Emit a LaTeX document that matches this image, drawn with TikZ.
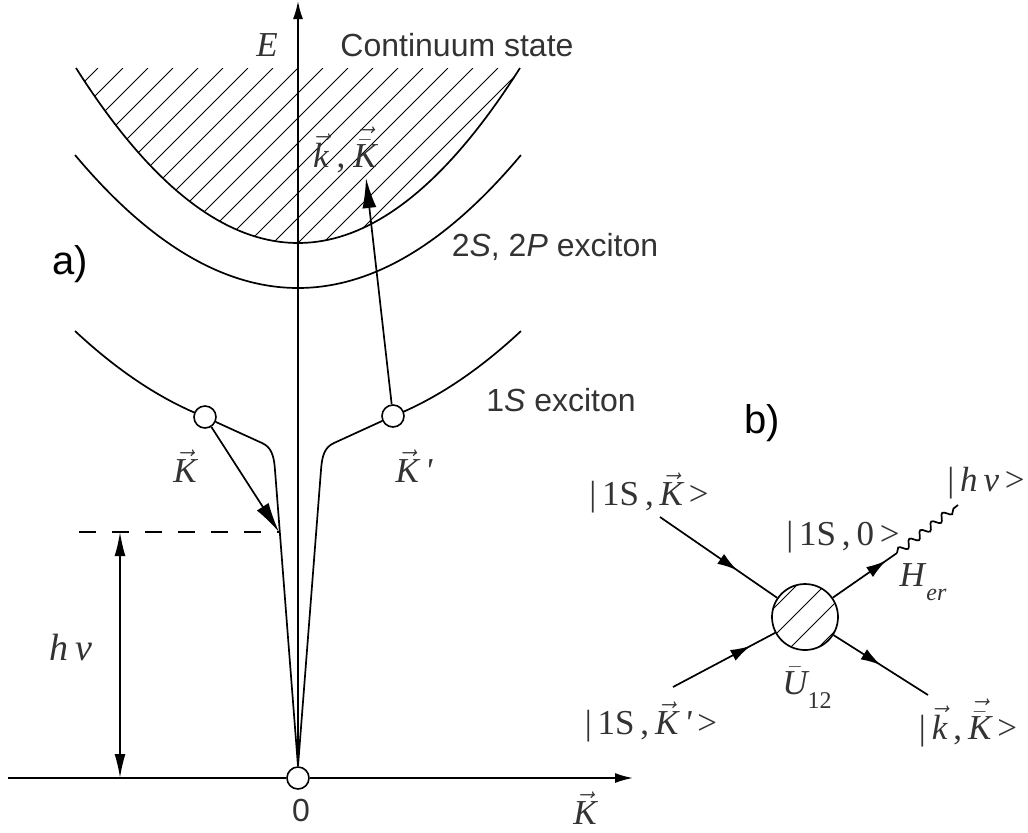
\documentclass[tikz,border=0pt]{standalone}
\usepackage{fontspec}
\setmainfont{Liberation Serif}
\setsansfont{Liberation Sans}
\usetikzlibrary{arrows.meta,decorations.markings,decorations.pathmorphing}
\definecolor{txt}{HTML}{333333}
\newcommand{\vk}[1]{\ensuremath{\vec{\mbox{\itshape #1}}}}
\newcommand{\vkb}[1]{\ensuremath{\vec{\mbox{\raisebox{0pt}[\dimexpr\height+2pt\relax]{$\bar{\mbox{\itshape #1}}$}}}}}
\tikzset{
  dot/.style={circle, draw, fill=white, line width=0.8pt, minimum size=11pt, inner sep=0pt},
  sanslbl/.style={font=\sffamily\fontsize{16}{19}\selectfont, text=txt, inner sep=0pt},
  seriflbl/.style={font=\fontsize{17.5}{20}\selectfont, text=txt, inner sep=0pt},
  panel/.style={font=\sffamily\fontsize{20}{24}\selectfont, text=black, inner sep=0pt},
  hatch/.style={line width=0.5pt},
  bigtip/.style={-{Latex[length=15pt,width=7pt]}},
  axtip/.style={-{Latex[length=9pt,width=5pt]}},
  midarrow/.style={postaction={decorate,decoration={markings,
      mark=at position #1 with {\arrow{Latex[length=10pt,width=6pt]}}}}},
  wave/.style={decorate, decoration={snake, segment length=7pt, amplitude=1.8pt}}
}
\begin{document}
\begin{tikzpicture}[x=0.5pt,y=-0.5pt,line width=0.85pt]
\useasboundingbox (0,0) rectangle (1028,832);

% ---------- panel a) ----------
% hatching of continuum
\begin{scope}
  \clip plot[domain=-1:1,samples=80] ({298+222*\x},{243-175*\x*\x}) -- cycle;
  \foreach \i in {-12,...,18} \draw[hatch] ({298+25*\i},68) -- ++(-220,220);
\end{scope}
% bands
\draw plot[domain=-1:1,samples=80] ({298+222*\x},{243-175*\x*\x});
\draw plot[domain=-1:1,samples=80] ({298+223*\x},{288-133*\x*\x});
\draw plot[domain=-1:-0.417,samples=40] ({298+223*\x},{435-104*\x*\x});
\draw plot[domain=0.426:1,samples=40] ({298+223*\x},{435-104*\x*\x});

% points
\node[dot] (O) at (298,778) {};
\node[dot] (L) at (205,417) {};
\node[dot] (R) at (393,416) {};

% axes
\coordinate (Etop) at (298,1);
\coordinate (Kstart) at (8,778);
\coordinate (Kend) at (633,778);
\draw[axtip] (O.north) -- (Etop);
\draw (Kstart) -- (O.west);
\draw[axtip] (O.east) -- (Kend);

% dip of the 1S branch
\draw (L) -- (262,443) .. controls (271,447) and (274,455) .. (275,470) -- (O.north);
\draw (R) -- (334,443) .. controls (325,447) and (322,455) .. (321,470) -- (O.north);

% transitions
\coordinate (Ltip) at (279,532);
\coordinate (Rtip) at (366,178);
\coordinate (D) at (79,532);
\coordinate (H1) at (120,532);
\coordinate (H0) at (120,778);
\draw[bigtip] (L) -- (Ltip);
\draw[bigtip] (R) -- (Rtip);
\draw[dash pattern=on 8.5pt off 8pt] (D) -- (Ltip);
\draw[{Latex[length=12pt,width=5.5pt]}-{Latex[length=12pt,width=5.5pt]}] (H0) -- (H1);

% labels a)
\node[seriflbl] (lE) at (267,45) {\itshape E};
\node[sanslbl] (lcont) at (457,45) {Continuum state};
\node[seriflbl] (lkK) at (345,150) {\vk{k}\hspace{4pt},\hspace{4pt}\vkb{K}};
\node[panel] (la) at (70,264) {a)};
\node[sanslbl] (l2s) at (555,247) {2\textit{S}, 2\textit{P} exciton};
\node[sanslbl] (l1s) at (561,400) {1\textit{S} exciton};
\node[seriflbl] (lK) at (185,466) {\vk{K}};
\node[seriflbl] (lKp) at (414,466) {\vk{K}\,{\itshape\textquotesingle}};
\node[seriflbl] (lhn) at (71,647) {\fontsize{19}{22}\selectfont\itshape h\,ν};
\node[sanslbl] (l0) at (301,810) {0};
\node[seriflbl] (lKax) at (585,808) {\vk{K}};

% ---------- panel b) ----------
\node[panel] (lb) at (762,423) {b)};
\node[circle, draw, minimum size=33pt, inner sep=0pt] (S) at (805,617) {};
\begin{scope}
  \clip (805,617) circle (33);
  \foreach \d in {-40,-12,16,44} \draw[hatch] ({805+\d-70},687) -- ++(140,-140);
\end{scope}
\coordinate (a1) at (660,517);
\coordinate (a2) at (673,687);
\coordinate (b1) at (897,553);
\coordinate (b2) at (928,695);
\coordinate (w) at (958,505);
\draw[midarrow=0.66] (a1) -- (S);
\draw[midarrow=0.76] (a2) -- (S);
\draw[midarrow=0.83] (S) -- (b1);
\draw[midarrow=0.5] (S) -- (b2);
\draw[wave] (b1) -- (w);

\node[seriflbl] (s1) at (649,493) {|\,1S\,,\,\vk{K}\,>};
\node[seriflbl] (s0) at (843,537) {|\,1S\,,\,0\,>};
\node[seriflbl] (shn) at (986,483) {|\,\textit{h\,ν}\,>};
\node[seriflbl] (sH) at (923,582) {\textit{H}\raisebox{-7pt}{\fontsize{12}{13}\selectfont\textit{er}}};
\node[seriflbl] (sU) at (807,688) {\ensuremath{\bar{\mbox{\itshape U}}}\raisebox{-7pt}{\fontsize{12}{13}\selectfont 12}};
\node[seriflbl] (s2) at (651,722) {|\,1S\,,\,\vk{K}\,{\itshape\textquotesingle}\,>};
\node[seriflbl] (s3) at (968,723) {|\,\vk{k}\hspace{3pt},\hspace{3pt}\vkb{K}\,>};
\end{tikzpicture}
\end{document}
